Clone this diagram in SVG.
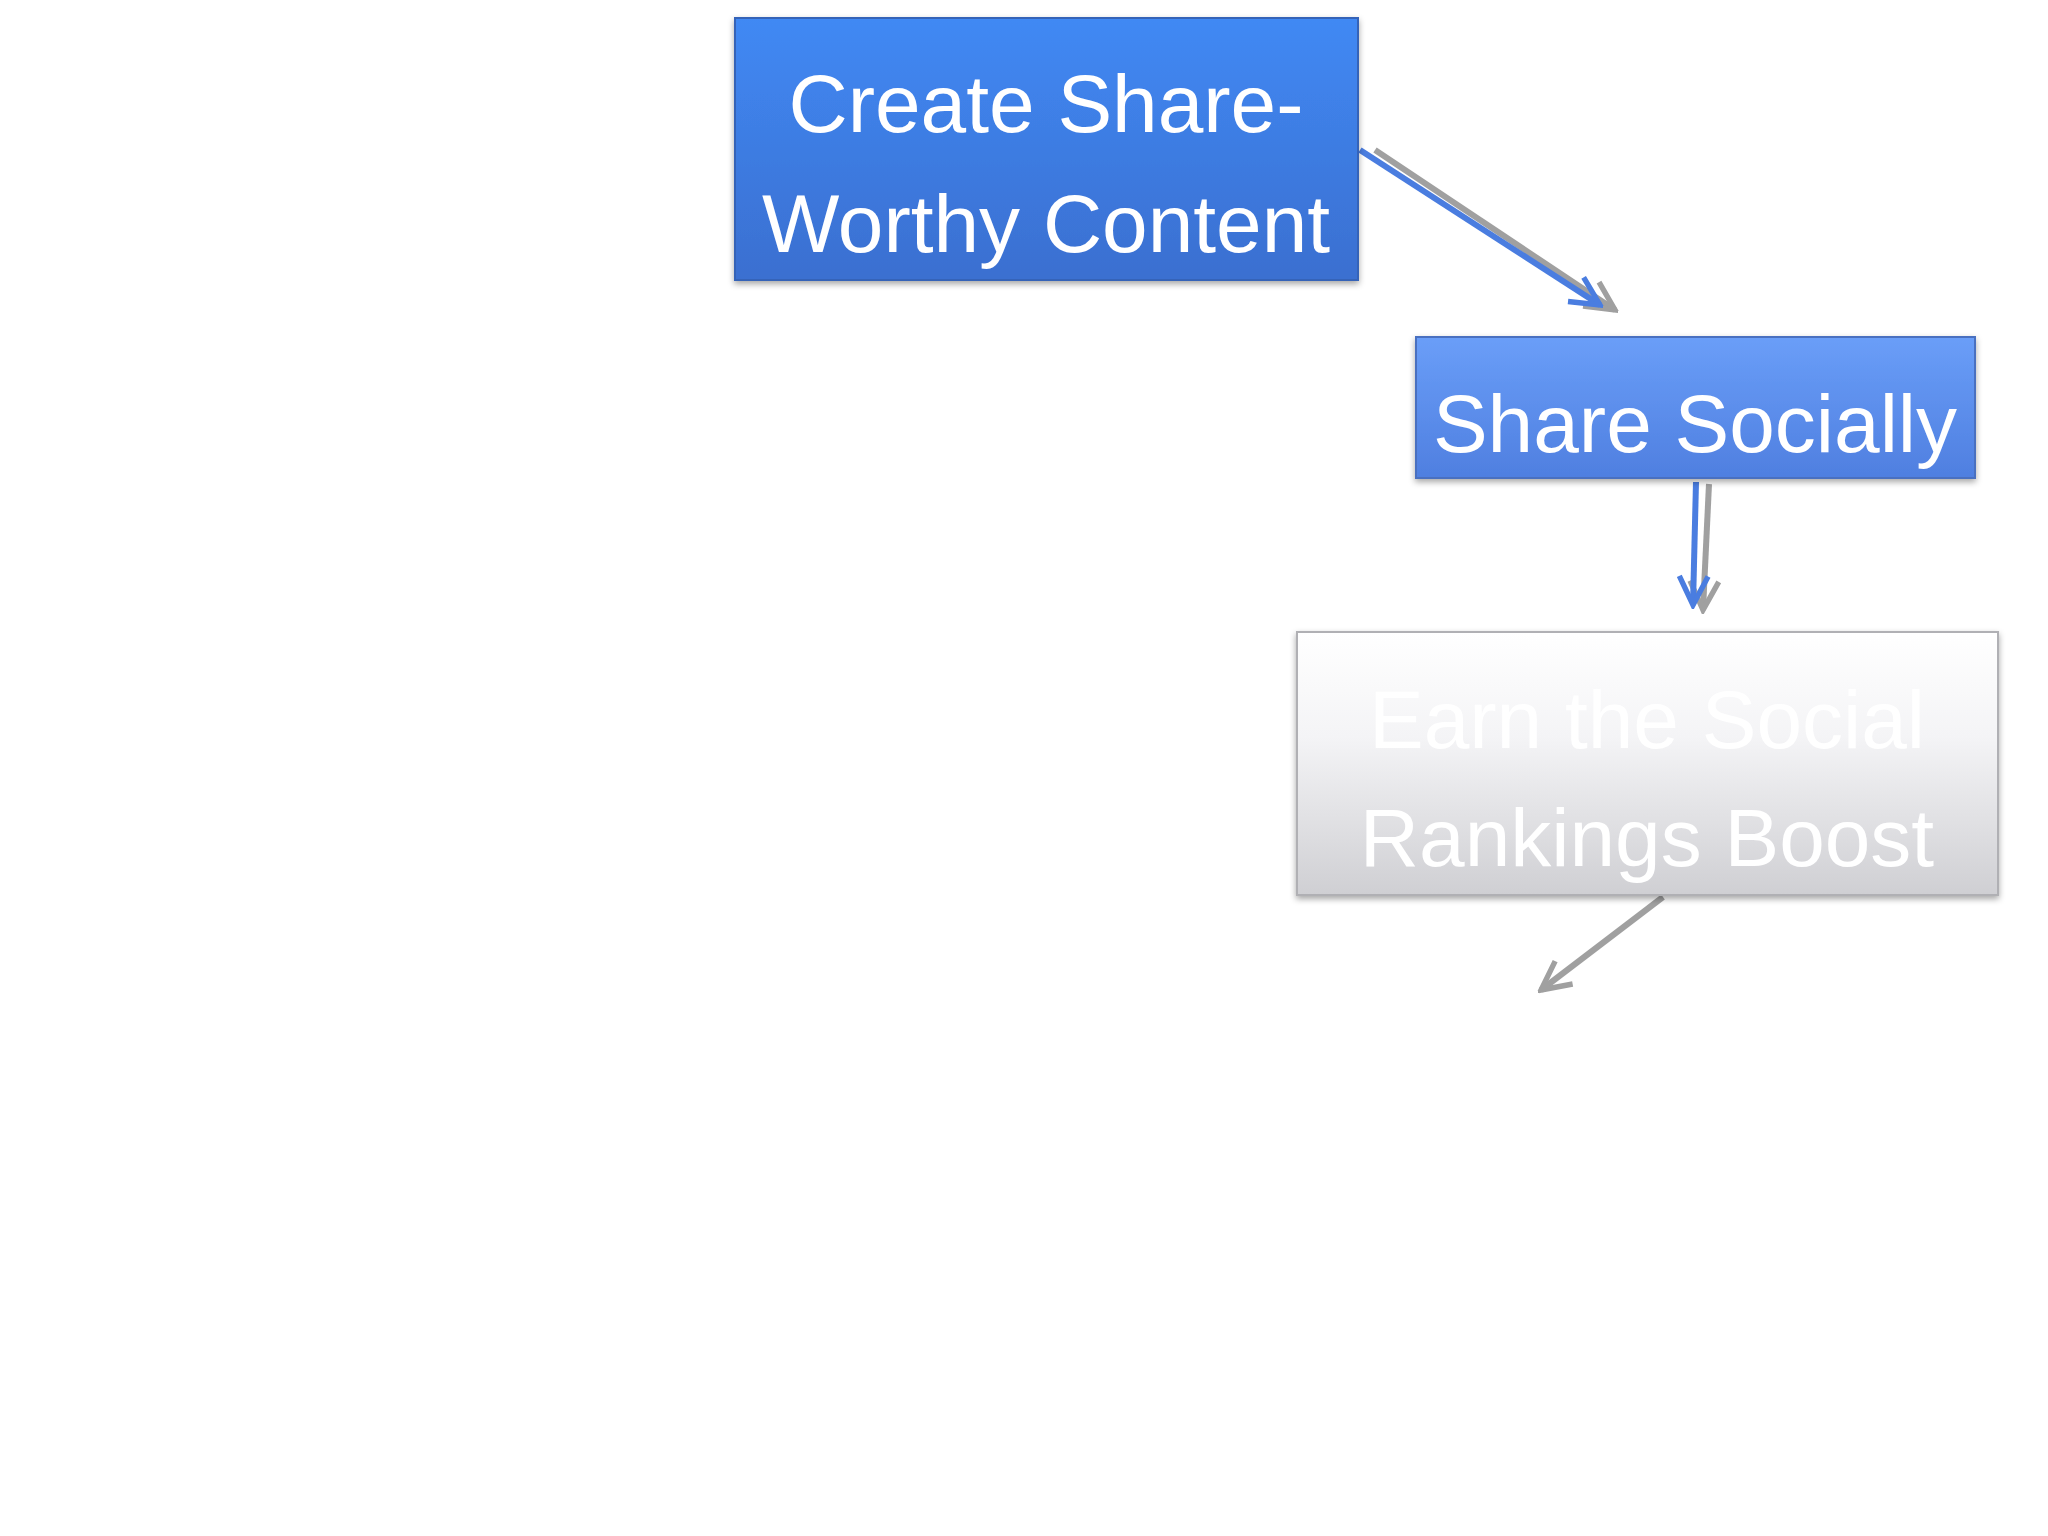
<svg xmlns="http://www.w3.org/2000/svg" width="2048" height="1536" viewBox="0 0 2048 1536">
<defs>
<linearGradient id="gb" x1="0" y1="0" x2="0" y2="1"><stop offset="0" stop-color="#4189f4"/><stop offset="1" stop-color="#3a6fd0"/></linearGradient>
<linearGradient id="gb2" x1="0" y1="0" x2="0" y2="1"><stop offset="0" stop-color="#6a9ef8"/><stop offset="1" stop-color="#4f7fe0"/></linearGradient>
<linearGradient id="gw" x1="0" y1="0" x2="0" y2="1"><stop offset="0" stop-color="#ffffff"/><stop offset="0.4" stop-color="#f4f4f6"/><stop offset="1" stop-color="#cfcfd3"/></linearGradient>
<marker id="mb" viewBox="0 0 10 10" refX="9" refY="5" markerWidth="6" markerHeight="6" orient="auto" markerUnits="strokeWidth"><path d="M1,1 L9,5 L1,9" fill="none" stroke="#4a7de0" stroke-width="1.5"/></marker>
<marker id="mg" viewBox="0 0 10 10" refX="9" refY="5" markerWidth="6" markerHeight="6" orient="auto" markerUnits="strokeWidth"><path d="M1,1 L9,5 L1,9" fill="none" stroke="#a0a0a0" stroke-width="1.5"/></marker>
<filter id="sh" x="-5%" y="-5%" width="110%" height="120%"><feDropShadow dx="0" dy="3" stdDeviation="3" flood-color="#000" flood-opacity="0.35"/></filter>
</defs>
<style>
text{font-family:"Liberation Sans",Arial,sans-serif;fill:#fff;text-anchor:middle;font-size:82px}
.g{stroke:#a0a0a0;stroke-width:6;fill:none}
.b{stroke:#4a7de0;stroke-width:6;fill:none}
</style>
<rect width="2048" height="1536" fill="#fff"/>
<g id="connectors">
<line class="g" x1="1375" y1="150" x2="1615" y2="310" marker-end="url(#mg)"/>
<line class="b" x1="1360" y1="150" x2="1600" y2="305" marker-end="url(#mb)"/>
<line class="g" x1="1709" y1="484" x2="1703" y2="610" marker-end="url(#mg)"/>
<line class="b" x1="1696" y1="482" x2="1693" y2="605" marker-end="url(#mb)"/>
<line class="g" x1="1663" y1="897" x2="1541" y2="990" marker-end="url(#mg)"/>
</g>
<g id="n1"><rect x="735" y="18" width="623" height="262" fill="url(#gb)" stroke="#3563b8" stroke-width="2" filter="url(#sh)"/>
<text x="1046" y="132">Create Share-</text><text x="1046" y="252">Worthy Content</text></g>
<g id="n2"><rect x="1416" y="337" width="559" height="141" fill="url(#gb2)" stroke="#4a70c0" stroke-width="2" filter="url(#sh)"/>
<text x="1695" y="452">Share Socially</text></g>
<g id="n3"><rect x="1297" y="632" width="701" height="263" fill="url(#gw)" stroke="#b0b0b4" stroke-width="2" filter="url(#sh)"/>
<text x="1647" y="748">Earn the Social</text><text x="1647" y="866">Rankings Boost</text></g>
</svg>
